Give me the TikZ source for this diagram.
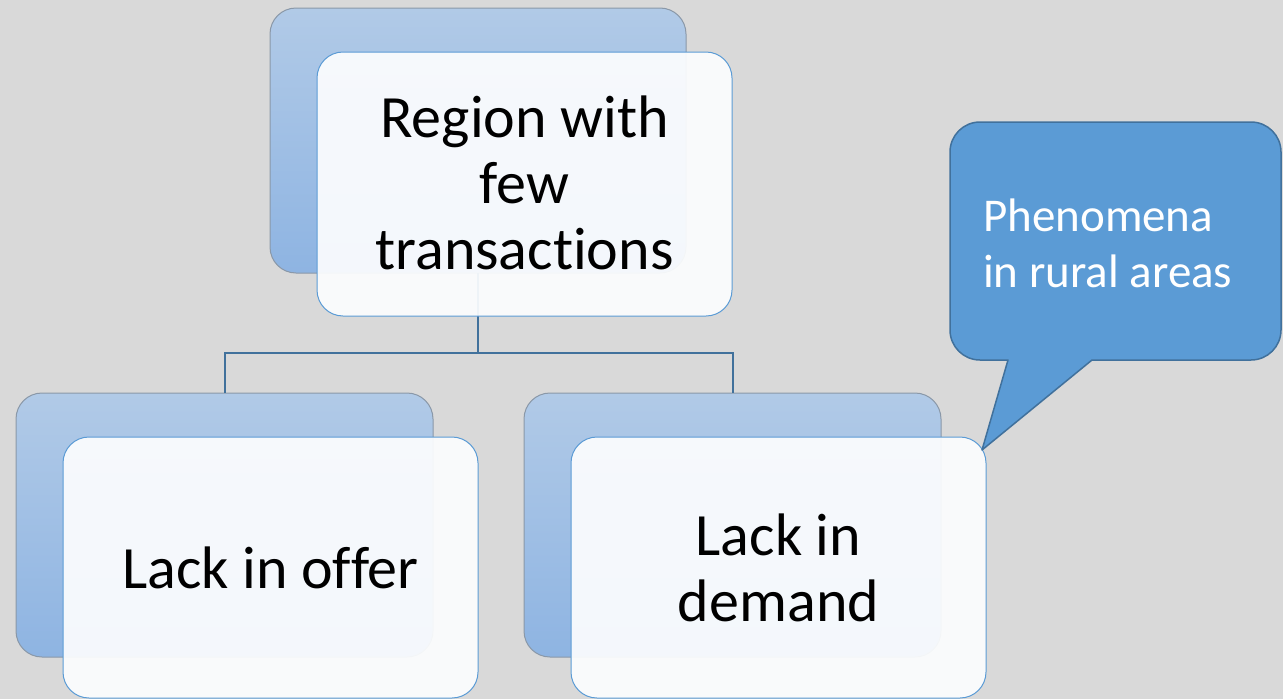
\documentclass[tikz,border=0pt]{standalone}
\usepackage{fontspec}
\setmainfont{Carlito}[Ligatures={NoCommon,NoRare,NoContextual}, RawFeature={-liga,-clig,-dlig,-calt}]
\definecolor{bg}{HTML}{D9D9D9}
\definecolor{backtop}{HTML}{B1CAE7}
\definecolor{backbot}{HTML}{8EB4E2}
\definecolor{backline}{HTML}{8A98A8}
\definecolor{frontline}{HTML}{5B9BD5}
\definecolor{conline}{HTML}{41719C}
\definecolor{callfill}{HTML}{5B9BD5}
\definecolor{frontfill}{HTML}{FCFDFE}
\begin{document}
\begin{tikzpicture}[x=1pt,y=-1pt,
  backbox/.style={rounded corners=26pt, draw=backline, line width=1pt, top color=backtop, bottom color=backbot},
  frontbox/.style={rounded corners=26pt, draw=frontline, line width=1pt, fill=frontfill, fill opacity=0.93, draw opacity=1},
  boxtext/.style={font=\fontsize{60}{66}\selectfont, align=center, text=black, text opacity=1},
  conn/.style={draw=conline, line width=2pt},
  callout/.style={fill=callfill, draw=conline, line width=1.5pt, line join=round}]
\useasboundingbox (0,0) rectangle (1283,699);
\fill[bg] (0,0) rectangle (1283,699);

% back boxes
\path[backbox] (270,8) rectangle (686,273);
\path[backbox] (16,393) rectangle (433,657);
\path[backbox] (524,393) rectangle (941,657);
\node[inner sep=0, minimum width=416pt, minimum height=265pt] (tb) at (478,140.5) {};
\node[inner sep=0, minimum width=417pt, minimum height=264pt] (lb) at (224.5,525) {};
\node[inner sep=0, minimum width=417pt, minimum height=264pt] (rb) at (732.5,525) {};

% connectors
\coordinate (j) at (478,353);
\draw[conn] (tb.south) -- (j);
\draw[conn] (lb.north) |- (j) -| (rb.north);

% front boxes
\path[frontbox] (317,52) rectangle (732,316);
\path[frontbox] (63,437) rectangle (478,698);
\path[frontbox] (571,437) rectangle (986,698);

\node[boxtext] (t) at (524.5,183) {Region with\\few\\transac\kern0pt tions};
\node[boxtext] (l) at (270.5,567.5) {Lack in of\kern0pt fer};
\node[boxtext] (r) at (778.5,567.5) {Lack in\\demand};

% callout
\path[callout] (1092,360) [rounded corners=30pt] -- (1281,360) -- (1281,122) -- (950,122) -- (950,360) [sharp corners] -- (1008,360) -- (982,450) -- cycle;
\node[font=\fontsize{47}{56}\selectfont, text=white, align=left, anchor=west, inner sep=0] (c) at (983,243) {Phenomena\\in rural areas};
\end{tikzpicture}
\end{document}
